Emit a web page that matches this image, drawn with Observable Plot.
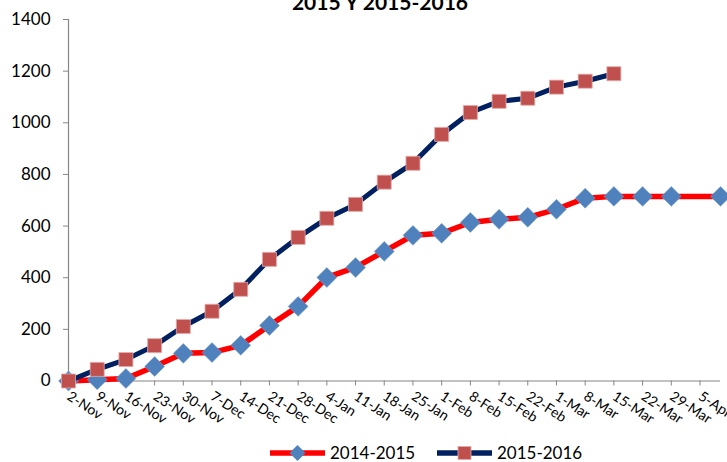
<!DOCTYPE html>
<html>
<head>
<meta charset="utf-8">
<script src="https://cdn.jsdelivr.net/npm/d3@7"></script>
<script src="https://cdn.jsdelivr.net/npm/@observablehq/plot@0.6"></script>
<style>
  body { margin: 0; background: #fff; }
  #wrap { position: relative; width: 727px; height: 462px; overflow: hidden; background: #fff; }
  #chart { position: absolute; left: 0; top: 0; }
  #overlay { position: absolute; left: 0; top: 0; pointer-events: none; }
</style>
</head>
<body>
<div id="wrap">
  <div id="chart"></div>
  <svg id="overlay" width="727" height="462"></svg>
</div>
<script>
// ---- data ----
const titleText = "2015 Y 2015-2016";
const seriesNames = ["2014-2015", "2015-2016"];
const weekDates = [
  "2014-11-02","2014-11-09","2014-11-16","2014-11-23","2014-11-30",
  "2014-12-07","2014-12-14","2014-12-21","2014-12-28",
  "2015-01-04","2015-01-11","2015-01-18","2015-01-25",
  "2015-02-01","2015-02-08","2015-02-15","2015-02-22",
  "2015-03-01","2015-03-08","2015-03-15","2015-03-22","2015-03-29",
  "2015-04-05"
];
const dates1415 = [
  "2014-11-02","2014-11-09","2014-11-16","2014-11-23","2014-11-30",
  "2014-12-07","2014-12-14","2014-12-21","2014-12-28",
  "2015-01-04","2015-01-11","2015-01-18","2015-01-25",
  "2015-02-01","2015-02-08","2015-02-15","2015-02-22",
  "2015-03-01","2015-03-08","2015-03-15","2015-03-22","2015-03-29",
  "2015-04-10"
];
const values1415 = [0, 5, 10, 56, 107, 110, 138, 215, 289, 401, 440, 502, 564, 572, 614, 626, 634, 665, 708, 715, 715, 715, 715];
const dates1516 = [
  "2014-11-02","2014-11-09","2014-11-16","2014-11-23","2014-11-30",
  "2014-12-07","2014-12-14","2014-12-21","2014-12-28",
  "2015-01-04","2015-01-11","2015-01-18","2015-01-25",
  "2015-02-01","2015-02-08","2015-02-15","2015-02-22",
  "2015-03-01","2015-03-08","2015-03-15"
];
const values1516 = [0, 45, 83, 137, 211, 270, 355, 471, 556, 630, 684, 770, 843, 955, 1040, 1083, 1095, 1138, 1161, 1190];
const yTicks = [0, 200, 400, 600, 800, 1000, 1200, 1400];

// ---- build ----
const parse = d3.utcParse("%Y-%m-%d");
const rows1 = dates1415.map((d, i) => ({date: parse(d), v: values1415[i]}));
const rows2 = dates1516.map((d, i) => ({date: parse(d), v: values1516[i]}));
const xStart = parse("2014-11-02"), xEnd = parse("2015-04-10");
const axisGray = "#868686";
const fontFam = "Lato, 'Open Sans', sans-serif";

const plot = Plot.plot({
  width: 727,
  height: 430,
  marginLeft: 68,
  marginRight: 7,
  marginTop: 19,
  marginBottom: 49.5,
  style: {fontFamily: fontFam, background: "white", overflow: "visible", color: "black"},
  x: {type: "utc", domain: [xStart, xEnd]},
  y: {domain: [0, 1400]},
  marks: [
    Plot.ruleX([xStart], {stroke: axisGray, strokeWidth: 1.2}),
    Plot.ruleY([0], {stroke: axisGray, strokeWidth: 1.2}),
    Plot.axisY({ticks: yTicks, tickFormat: d => String(d), tickSize: 5, tickPadding: 13,
      fontSize: 17, stroke: axisGray, fill: "black", label: null}),
    Plot.axisX({ticks: weekDates.map(parse), tickFormat: d3.utcFormat("%-d-%b"),
      tickSize: 5, tickPadding: 9, tickRotate: 33, textAnchor: "start",
      fontSize: 14, stroke: axisGray, fill: "black", label: null}),
    Plot.line(rows1, {x: "date", y: "v", stroke: "#FF0000", strokeWidth: 5.5}),
    Plot.dot(rows1, {x: "date", y: "v", symbol: "diamond2", r: 9, fill: "#4F81BD", stroke: "#7AA0CF", strokeWidth: 0.5}),
    Plot.line(rows2, {x: "date", y: "v", stroke: "#002060", strokeWidth: 5}),
    Plot.dot(rows2, {x: "date", y: "v", symbol: "square", r: 7.9, fill: "#C0504D", stroke: "#E6A9A7", strokeWidth: 0.8})
  ]
});
document.getElementById("chart").appendChild(plot);

// ---- overlay: title + legend ----
const ov = d3.select("#overlay");
ov.append("text").attr("x", 380).attr("y", 10).attr("text-anchor", "middle")
  .attr("font-family", fontFam).attr("font-weight", "bold").attr("font-size", 21)
  .text(titleText);

const leg = [
  {name: seriesNames[0], x0: 270, line: "#FF0000", sym: "diamond"},
  {name: seriesNames[1], x0: 437, line: "#002060", sym: "square"}
];
const ly = 453;
leg.forEach(l => {
  ov.append("line").attr("x1", l.x0).attr("x2", l.x0 + 55).attr("y1", ly).attr("y2", ly)
    .attr("stroke", l.line).attr("stroke-width", 5.5);
  const cx = l.x0 + 27.5;
  if (l.sym === "diamond") {
    ov.append("path").attr("d", `M${cx},${ly-8}L${cx+8},${ly}L${cx},${ly+8}L${cx-8},${ly}Z`)
      .attr("fill", "#4F81BD");
  } else {
    ov.append("rect").attr("x", cx - 6.5).attr("y", ly - 6.5).attr("width", 13).attr("height", 13)
      .attr("fill", "#C0504D").attr("stroke", "#E6A9A7").attr("stroke-width", 0.8);
  }
  ov.append("text").attr("x", l.x0 + 60).attr("y", ly).attr("dy", "0.36em")
    .attr("font-family", fontFam).attr("font-size", 17).text(l.name);
});
</script>
</body>
</html>
